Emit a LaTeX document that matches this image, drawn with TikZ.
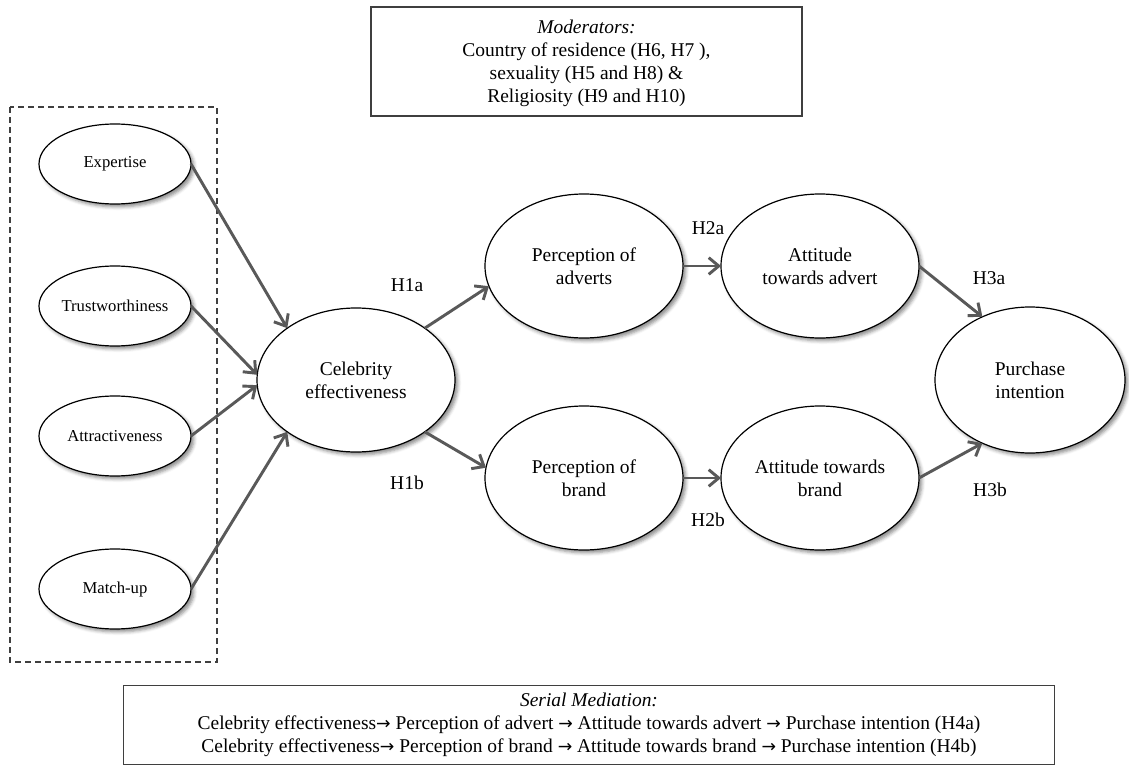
\documentclass[tikz,border=0pt]{standalone}
\usepackage{fontspec}
\setmainfont{Liberation Serif}
\newfontfamily\symfont{DejaVu Sans}
\usetikzlibrary{arrows.meta,shapes.geometric,shadows.blur}
\definecolor{arrowgray}{HTML}{595959}
\definecolor{framegray}{HTML}{3F3F3F}
\newcommand{\mainfs}{\fontsize{14.6}{17.25}\selectfont}
\newcommand{\smallfs}{\fontsize{12.5}{15}\selectfont}
\newcommand{\rarr}{{\symfont\fontsize{13}{15}\selectfont →}}
\begin{document}
\begin{tikzpicture}[x=0.75pt,y=-0.75pt,
  construct/.style={ellipse, draw=black, line width=0.9pt, fill=white,
    inner sep=0pt, outer sep=0pt, minimum width=148.5pt, minimum height=108pt,
    align=center, font=\mainfs,
    blur shadow={shadow xshift=2.2pt, shadow yshift=-2.2pt,
      shadow blur radius=2.5pt, shadow opacity=45}},
  driver/.style={construct, minimum width=114pt, minimum height=60pt, font=\smallfs},
  link/.style={draw=arrowgray, line width=2.2pt,
    -{Straight Barb[length=7.5pt,width=12.5pt]}},
  hlabel/.style={font=\mainfs, inner sep=0pt},
  textbox/.style={draw=framegray, line width=1pt, fill=white, align=center,
    font=\mainfs, inner sep=0pt},
  groupbox/.style={draw=framegray, line width=0.8pt, dash pattern=on 4.5pt off 3pt}
  ]
\useasboundingbox (0,0) rectangle (1129,767);

% grouped antecedents of celebrity effectiveness
\draw[groupbox] (10,107) rectangle (217,662);

% moderators
\node[textbox, minimum width=323.25pt, minimum height=81.75pt, text depth=-3pt] (mod) at (586.5,61.5)
  {\textit{Moderators:}\\Country of residence (H6, H7 ),\\sexuality (H5 and H8) \&\\Religiosity (H9 and H10)};

% constructs
\node[driver] (exp) at (115,164) {Expertise};
\node[driver] (tru) at (115,306) {Trustworthiness};
\node[driver] (att) at (115,436) {Attractiveness};
\node[driver] (mat) at (115,589) {Match-up};
\node[construct] (cel) at (356,380) {Celebrity\\effectiveness};
\node[construct] (pad) at (584,266) {Perception of\\adverts};
\node[construct] (aad) at (820,266) {Attitude\\towards advert};
\node[construct] (pbr) at (584,478) {Perception of\\brand};
\node[construct] (abr) at (820,478) {Attitude towards\\brand};
\node[construct, minimum width=142.5pt, minimum height=109.5pt] (pur) at (1030,380) {Purchase\\intention};

% hypothesised paths
\draw[link] (exp.east) -- (cel.143);
\draw[link] (tru.east) -- (cel.177);
\draw[link] (att.east) -- (cel.183);
\draw[link] (mat.east) -- (cel.217);
\draw[link] (cel.37) -- (pad.192);
\draw[link] (cel.-37) -- (pbr.174);
\draw[link] (pad.east) -- (aad.west);
\draw[link] (pbr.east) -- (abr.west);
\draw[link] (aad.east) -- (pur.127);
\draw[link] (abr.east) -- (pur.233);

% path labels
\node[hlabel] (h1a) at (407,285) {H1a};
\node[hlabel] (h1b) at (407,483) {H1b};
\node[hlabel] (h2a) at (708,228) {H2a};
\node[hlabel] (h2b) at (708,520) {H2b};
\node[hlabel] (h3a) at (989,278) {H3a};
\node[hlabel] (h3b) at (990,490) {H3b};

% serial mediation
\node[textbox, anchor=north west, inner xsep=55.5pt, minimum height=59.25pt] (med) at (123,685)
  {\textit{Serial Mediation:}\\
   Celebrity effectiveness\rarr{} Perception of advert \rarr{} Attitude towards advert \rarr{} Purchase intention (H4a)\\
   Celebrity effectiveness\rarr{} Perception of brand \rarr{} Attitude towards brand \rarr{} Purchase intention (H4b)};
\end{tikzpicture}
\end{document}
